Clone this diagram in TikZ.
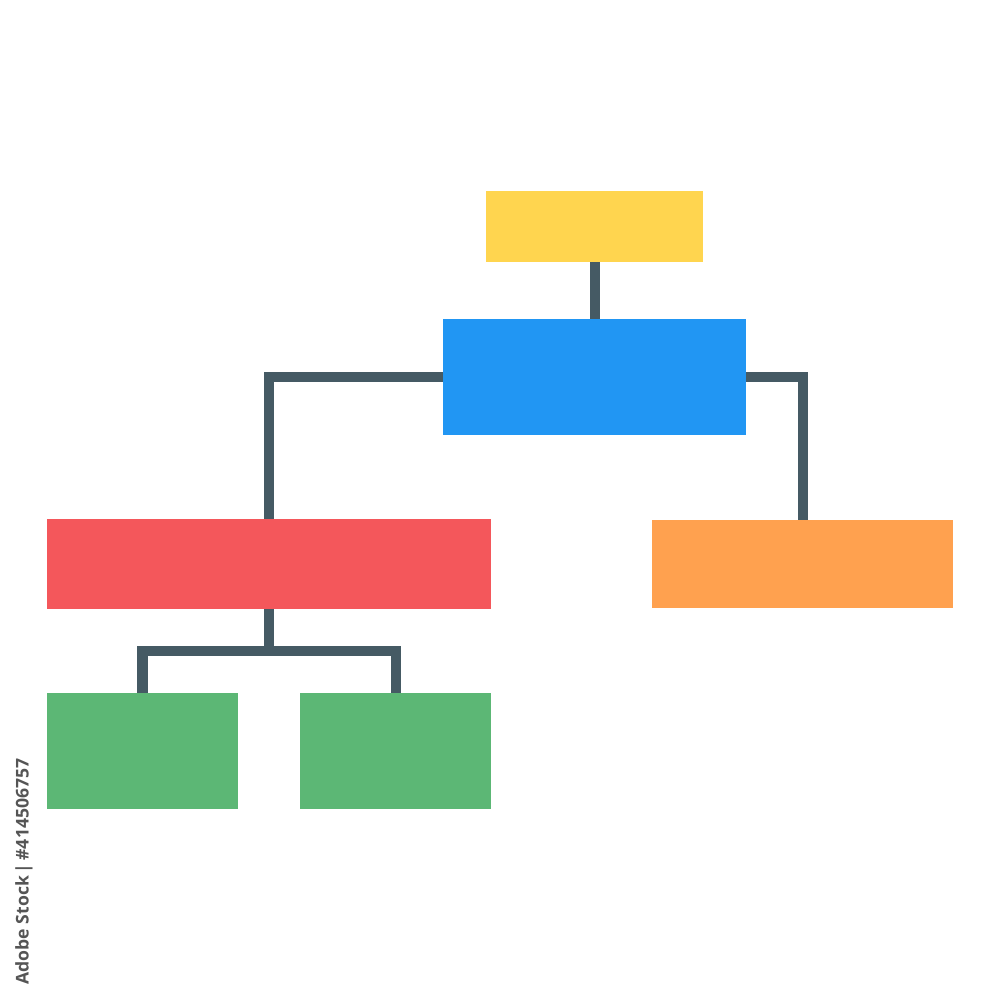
\documentclass[tikz,border=0pt]{standalone}
\usepackage{fontspec}
\newfontfamily\stockfont{Open Sans}
\definecolor{cyellow}{HTML}{FFD54F}
\definecolor{cblue}{HTML}{2196F3}
\definecolor{cred}{HTML}{F4575B}
\definecolor{corange}{HTML}{FFA14F}
\definecolor{cgreen}{HTML}{5CB775}
\definecolor{cline}{HTML}{455A64}
\definecolor{cstock}{HTML}{555555}
\begin{document}
\begin{tikzpicture}[x=0.01cm,y=-0.01cm,
  box/.style={rectangle,draw=none,inner sep=0pt,outer sep=0pt},
  link/.style={draw=cline,line width=0.1cm,line join=miter,line cap=butt}]
\useasboundingbox (0,0) rectangle (1000,1000);
\node[box,fill=cyellow,minimum width=2.17cm,minimum height=0.71cm] (top) at (594.5,226.5) {};
\node[box,fill=cblue,minimum width=3.03cm,minimum height=1.16cm] (mid) at (594.5,377) {};
\node[box,fill=cred,minimum width=4.44cm,minimum height=0.89cm] (left) at (269,564) {};
\node[box,fill=corange,minimum width=3.01cm,minimum height=0.88cm] (right) at (802.5,564) {};
\node[box,fill=cgreen,minimum width=1.91cm,minimum height=1.16cm] (g1) at (142.5,751) {};
\node[box,fill=cgreen,minimum width=1.91cm,minimum height=1.16cm] (g2) at (395.5,751) {};
\coordinate (j) at (269,650.5);
\draw[link] (top) -- (mid);
\draw[link] (mid.west) -| (left.north);
\draw[link] (mid.east) -| (right.north);
\draw[link] (left.south) -- (j);
\draw[link] (g1.north) |- (j) -| (g2.north);
\node[rotate=90,anchor=west,inner sep=0pt,text=cstock,font=\stockfont\fontsize{5pt}{6pt}\selectfont\bfseries] (id) at (24,985) {Adobe Stock\,|\,\#414506757};
\end{tikzpicture}
\end{document}
